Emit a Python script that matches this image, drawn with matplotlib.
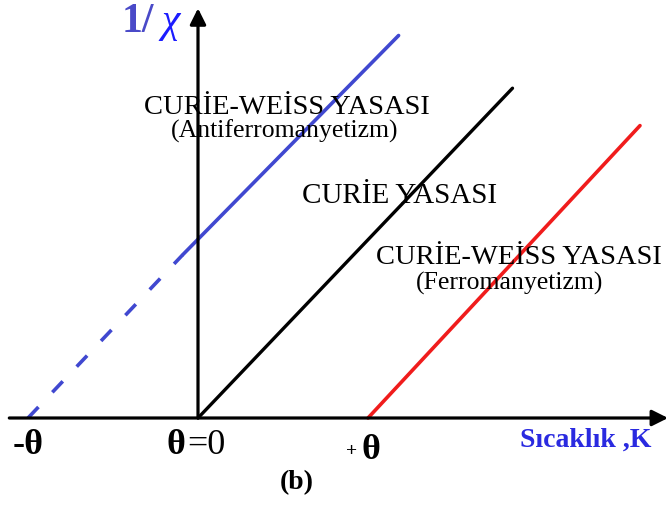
import matplotlib.pyplot as plt

plt.rcParams['font.family'] = ['Liberation Serif', 'DejaVu Serif']

# temperatures in units of theta, inverse susceptibility in the same scale
anti_T = [-1.0, -0.09, 1.18]
anti_y = [0.0, 0.96, 2.25]
curie_T = [0.0, 1.85]
curie_y = [0.0, 1.94]
ferro_T = [1.0, 2.6]
ferro_y = [0.0, 1.72]

tick_pos = [-1.0, 0.0, 1.0]

BLUE = '#4048d0'
RED = '#f01c1c'

fig = plt.figure(figsize=(6.7, 5.05), dpi=100)
ax = fig.add_axes([0, 0, 1, 1])
ax.set_xlim(-198 / 170, 472 / 170)
ax.set_ylim(-87 / 170, 418 / 170)
ax.axis('off')

# axes with arrow heads
arrow = dict(arrowstyle='-|>', lw=2.3, color='black', mutation_scale=24,
             shrinkA=0, shrinkB=0)
ax.annotate('', xy=(2.765, 0), xytext=(-1.11, 0), arrowprops=arrow)
ax.annotate('', xy=(0, 2.41), xytext=(0, 0), arrowprops=arrow)

# antiferromagnet: dashed below T=0, solid above
ax.plot(anti_T[:2], anti_y[:2], color=BLUE, lw=2.6, dashes=(4.2, 5.6),
        solid_capstyle='butt')
ax.plot(anti_T[1:], anti_y[1:], color=BLUE, lw=2.6, solid_capstyle='round')
ax.plot(curie_T, curie_y, color='black', lw=2.4, solid_capstyle='round')
ax.plot(ferro_T, ferro_y, color=RED, lw=2.6, solid_capstyle='round')

# labels
ax.text(0.524, 1.824, 'CURİE-WEİSS YASASI', fontsize=20.5, ha='center', va='center')
ax.text(0.51, 1.685, '(Antiferromanyetizm)', fontsize=18.5, ha='center', va='center')
ax.text(1.188, 1.306, 'CURİE YASASI', fontsize=21, ha='center', va='center')
ax.text(1.888, 0.945, 'CURİE-WEİSS YASASI', fontsize=20.5, ha='center', va='center')
ax.text(1.83, 0.79, '(Ferromanyetizm)', fontsize=18.5, ha='center', va='center')

ax.text(-0.26, 2.33, '1/', fontsize=30, fontweight='bold', color='#4a4ac8',
        ha='right', va='center')
ax.text(-0.215, 2.33, 'χ', fontsize=30, style='italic', color='#1c1cff',
        ha='left', va='center')

# theta markers on the temperature axis
ax.text(tick_pos[0], -0.16, '-θ', fontsize=26, fontweight='bold', ha='center', va='center')
ax.text(tick_pos[1] - 0.13, -0.16, 'θ', fontsize=26, fontweight='bold', ha='center', va='center')
ax.text(tick_pos[1] + 0.05, -0.16, '=0', fontsize=26, ha='center', va='center')
ax.text(tick_pos[2] - 0.095, -0.2, '+', fontsize=14, fontweight='bold', ha='center', va='center')
ax.text(tick_pos[2] + 0.02, -0.19, 'θ', fontsize=26, fontweight='bold', ha='center', va='center')

ax.text(2.28, -0.13, 'Sıcaklık ,K', fontsize=20, fontweight='bold', color='#2a2ae0',
        ha='center', va='center')
ax.text(0.58, -0.38, '(b)', fontsize=20, fontweight='bold', ha='center', va='center')

fig.savefig('out.png', dpi=100)
